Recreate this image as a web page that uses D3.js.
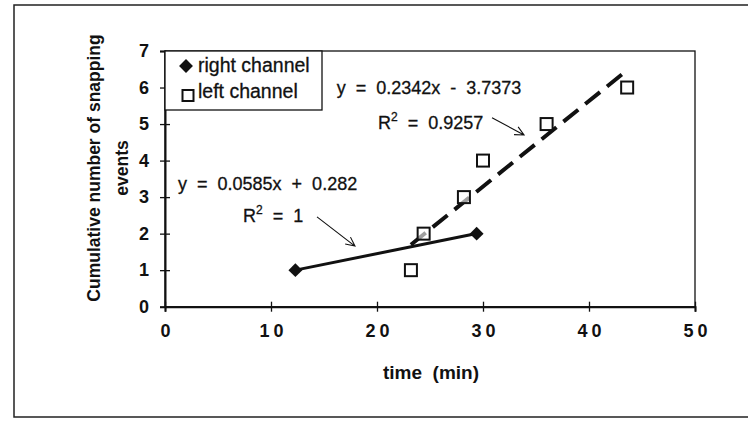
<!DOCTYPE html>
<html><head><meta charset="utf-8">
<script src="https://cdn.jsdelivr.net/npm/d3@7"></script>
<style>
body{margin:0;background:#fff;}
svg{display:block;font-family:"Liberation Sans",Arial,Helvetica,sans-serif;}
</style></head><body>
<svg id="c" width="752" height="421"></svg>
<script>
// ---- data ----
const rightTime = [12.3, 29.4];
const rightCount = [1, 2];
const leftTime = [23.2, 24.4, 28.2, 30.0, 36.0, 43.6];
const leftCount = [1, 2, 3, 4, 5, 6];
const xTicks = [0, 10, 20, 30, 40, 50];
const yTicks = [0, 1, 2, 3, 4, 5, 6, 7];
const seriesNames = ["right channel", "left channel"];
const rightFit = {slope: 0.0585, intercept: 0.282, eq: "y = 0.0585x + 0.282", r2: "1"};
const leftFit = {slope: 0.2342, intercept: -3.7373, eq: "y = 0.2342x - 3.7373", r2: "0.9257"};
const xTitle = "time  (min)";
const yTitleLines = ["Cumulative number of snapping", "events"];

// ---- layout ----
const svg = d3.select("#c");
const x = d3.scaleLinear().domain([0, 50]).range([165, 695]);
const y = d3.scaleLinear().domain([0, 7]).range([306.7, 51]);
const ink = "#111";

// outer frame
svg.append("path").attr("d", "M748,5H14V417H748").attr("fill", "none").attr("stroke", "#222").attr("stroke-width", 1.5);

// plot frame
svg.append("rect").attr("x", x(0)).attr("y", y(7)).attr("width", x(50) - x(0)).attr("height", y(0) - y(7))
  .attr("fill", "none").attr("stroke", ink).attr("stroke-width", 1.3);

// y axis
const ya = svg.append("g").attr("transform", `translate(${x(0)},0)`)
  .call(d3.axisLeft(y).tickValues(yTicks).tickSize(5).tickPadding(11).tickFormat(d3.format("d")));
ya.select(".domain").attr("stroke", ink).attr("stroke-width", 2);
ya.selectAll(".tick line").attr("x1", 5).attr("x2", -5).attr("stroke", ink).attr("stroke-width", 1.3);
ya.selectAll(".tick text").attr("font-size", 18).attr("font-weight", "bold").attr("fill", ink)
  .attr("font-family", "Liberation Sans, Arial, sans-serif");

// x axis
const xa = svg.append("g").attr("transform", `translate(0,${y(0)})`)
  .call(d3.axisBottom(x).tickValues(xTicks).tickSize(5).tickPadding(13).tickFormat(d3.format("d")));
xa.select(".domain").attr("stroke", ink).attr("stroke-width", 2);
xa.selectAll(".tick line").attr("y1", -5).attr("y2", 5).attr("stroke", ink).attr("stroke-width", 1.3);
xa.selectAll(".tick text").attr("font-size", 18).attr("font-weight", "bold").attr("fill", ink)
  .attr("letter-spacing", 4).attr("dx", 2)
  .attr("font-family", "Liberation Sans, Arial, sans-serif");

// axis titles
svg.append("text").attr("x", 431).attr("y", 379).attr("text-anchor", "middle")
  .attr("font-size", 19).attr("font-weight", "bold").attr("fill", ink).style("white-space", "pre").text(xTitle);
const yt = svg.append("text").attr("transform", "translate(100,168) rotate(-90)")
  .attr("text-anchor", "middle").attr("font-size", 17.5).attr("font-weight", "bold").attr("fill", ink);
yTitleLines.forEach((t, i) => yt.append("tspan").attr("x", 0).attr("dy", i === 0 ? 0 : 28).text(t));

// trend lines
const trend = (f, x0, x1) => [[x0, f.slope * x0 + f.intercept], [x1, f.slope * x1 + f.intercept]];
const line = d3.line().x(d => x(d[0])).y(d => y(d[1]));
svg.append("path").attr("d", line(trend(rightFit, d3.min(rightTime), d3.max(rightTime))))
  .attr("stroke", ink).attr("stroke-width", 3).attr("fill", "none");
svg.append("path").attr("d", line(trend(leftFit, d3.min(leftTime), d3.max(leftTime))))
  .attr("stroke", ink).attr("stroke-width", 4).attr("fill", "none").attr("stroke-dasharray", "19,9");

// markers
const diamond = d3.symbol().type(d3.symbolSquare).size(96);
svg.selectAll(".rp").data(rightTime).join("path").attr("class", "rp")
  .attr("transform", (d, i) => `translate(${x(d)},${y(rightCount[i])}) rotate(45)`).attr("d", diamond).attr("fill", ink);
svg.selectAll(".lp").data(leftTime).join("rect").attr("class", "lp")
  .attr("x", d => x(d) - 6).attr("y", (d, i) => y(leftCount[i]) - 6).attr("width", 12).attr("height", 12)
  .attr("fill", "#fff").attr("fill-opacity", 0.6).attr("stroke", ink).attr("stroke-width", 2);

// legend
const lg = svg.append("g");
lg.append("rect").attr("x", x(0)).attr("y", y(7)).attr("width", 157).attr("height", 59)
  .attr("fill", "#fff").attr("stroke", ink).attr("stroke-width", 1.3);
lg.append("path").attr("transform", `translate(${x(0) + 21},${y(7) + 15}) rotate(45)`).attr("d", diamond).attr("fill", ink);
lg.append("rect").attr("x", x(0) + 17.5).attr("y", y(7) + 39).attr("width", 11).attr("height", 11)
  .attr("fill", "#fff").attr("stroke", ink).attr("stroke-width", 2);
lg.selectAll("text").data(seriesNames).join("text")
  .attr("x", x(0) + 33).attr("y", (d, i) => y(7) + 21 + i * 26)
  .attr("font-size", 19.5).attr("fill", ink).attr("stroke", ink).attr("stroke-width", 0.3).text(d => d);

// equation labels
function eqLabel(fit, ex, ey, rx, ry) {
  svg.append("text").attr("x", x(ex)).attr("y", y(ey)).attr("font-size", 18).attr("fill", ink)
    .attr("stroke", ink).attr("stroke-width", 0.3)
    .style("white-space", "pre").text(fit.eq.replace(/ /g, "  "));
  const t = svg.append("text").attr("x", x(rx)).attr("y", y(ry)).attr("font-size", 18).attr("fill", ink)
    .attr("stroke", ink).attr("stroke-width", 0.3).style("white-space", "pre");
  t.append("tspan").text("R");
  t.append("tspan").attr("dy", -8).attr("font-size", 12).text("2");
  t.append("tspan").attr("dy", 8).text("  =  " + fit.r2);
}
eqLabel(leftFit, 16.2, 5.83, 20.1, 4.87);
eqLabel(rightFit, 1.23, 3.19, 7.36, 2.32);

// arrows
function arrow(x0, y0, x1, y1) {
  const X0 = x(x0), Y0 = y(y0), X1 = x(x1), Y1 = y(y1);
  const a = Math.atan2(Y1 - Y0, X1 - X0), L = 10, s = 0.45;
  svg.append("path").attr("d",
    `M${X0},${Y0}L${X1},${Y1}M${X1 - L * Math.cos(a - s)},${Y1 - L * Math.sin(a - s)}L${X1},${Y1}L${X1 - L * Math.cos(a + s)},${Y1 - L * Math.sin(a + s)}`)
    .attr("fill", "none").attr("stroke", ink).attr("stroke-width", 1.1);
}
arrow(14.34, 2.46, 17.92, 1.66);
arrow(30.85, 5.17, 33.87, 4.70);
</script>
</body></html>
